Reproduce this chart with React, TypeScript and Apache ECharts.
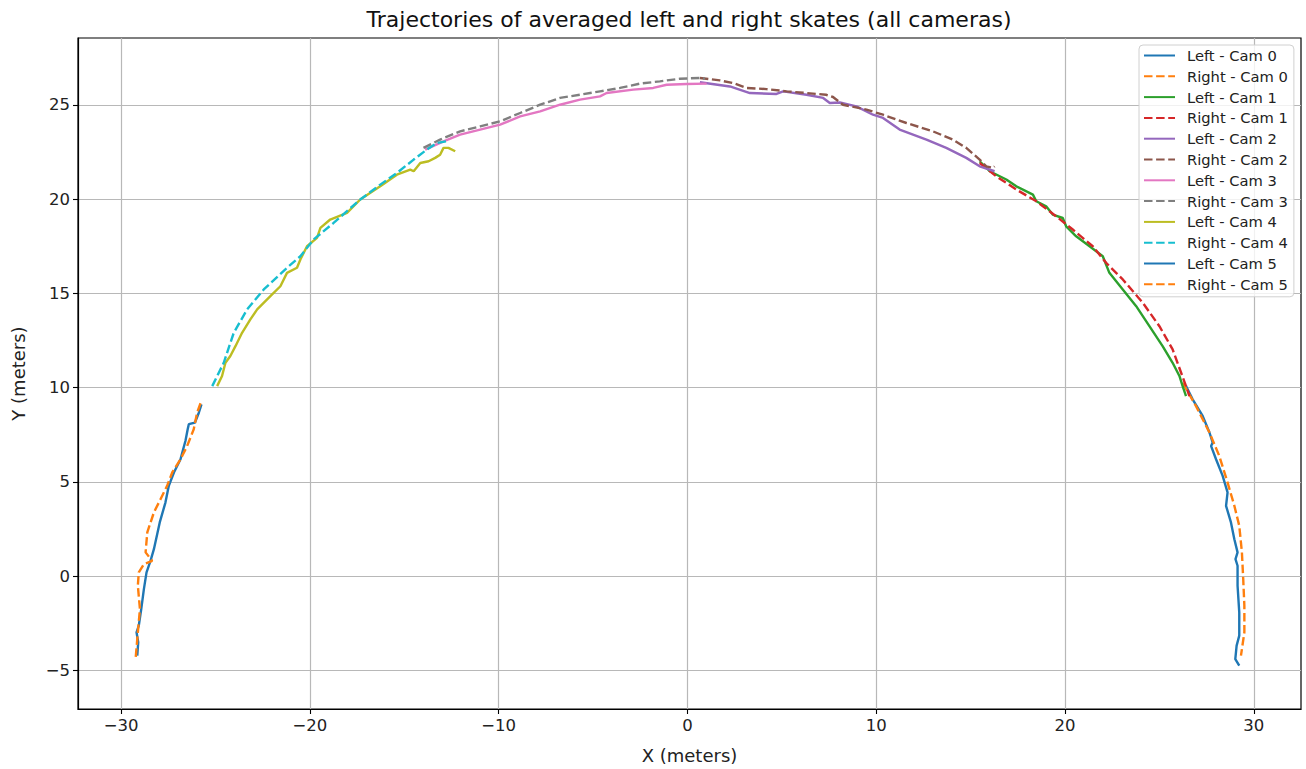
import React, { useEffect, useRef } from "react";
import * as echarts from "echarts";

const FONT = "DejaVu Sans";

const xTicks = [-30, -20, -10, 0, 10, 20, 30];
const yTicks = [-5, 0, 5, 10, 15, 20, 25];

// Cam 0 (right end of the arc)
const leftCam0: number[][] = [
  [26.41, 10.08], [26.76, 9.38], [27.29, 8.5], [27.65, 7.62], [27.82, 7.09], [27.74, 6.9],
  [28.0, 6.2], [28.35, 5.32], [28.61, 4.44], [28.53, 3.73], [28.79, 2.85], [28.97, 1.96],
  [29.14, 1.26], [29.03, 0.9], [29.14, 0.55], [29.14, -0.51], [29.23, -1.92], [29.23, -3.16],
  [29.09, -3.69], [29.02, -4.4], [29.23, -4.75],
];
const rightCam0: number[][] = [
  [26.23, 10.26], [26.94, 9.02], [27.65, 7.62], [28.17, 6.38], [28.61, 4.97], [28.97, 3.73],
  [29.23, 2.67], [29.37, 1.26], [29.44, -0.16], [29.5, -1.57], [29.5, -2.98], [29.32, -4.22],
];
// Cam 1
const leftCam1: number[][] = [
  [15.48, 22.01], [16.01, 21.48], [16.89, 21.04], [17.42, 20.68], [18.3, 20.24], [18.48, 19.89],
  [19.0, 19.62], [19.35, 19.18], [19.88, 19.0], [20.06, 18.56], [20.59, 18.03], [21.3, 17.5],
  [22.0, 16.97], [22.35, 16.09], [23.06, 15.21], [23.77, 14.32], [24.47, 13.26], [25.17, 12.2],
  [25.7, 11.32], [26.06, 10.62], [26.23, 10.08], [26.41, 9.55],
];
const rightCam1: number[][] = [
  [15.48, 21.92], [16.36, 21.21], [17.42, 20.51], [18.48, 19.89], [19.53, 19.09], [20.41, 18.39],
  [21.47, 17.5], [22.18, 16.62], [23.06, 15.74], [24.12, 14.5], [25.0, 13.26], [25.7, 12.03],
  [26.15, 10.79], [26.41, 10.08], [26.59, 9.55],
];
// Cam 2
const leftCam2: number[][] = [
  [0.66, 26.2], [2.25, 25.98], [3.31, 25.63], [4.72, 25.58], [5.07, 25.72], [6.31, 25.54],
  [7.19, 25.37], [7.54, 25.1], [8.07, 25.13], [8.95, 24.92], [9.83, 24.48], [10.36, 24.31],
  [11.24, 23.69], [12.66, 23.16], [13.71, 22.72], [14.77, 22.19], [15.48, 21.74], [16.27, 21.48],
];
const rightCam2: number[][] = [
  [0.66, 26.43], [1.72, 26.3], [2.42, 26.16], [3.13, 25.9], [4.19, 25.84], [5.25, 25.72],
  [6.31, 25.63], [7.34, 25.54], [7.71, 25.42], [8.24, 25.01], [9.48, 24.75], [10.36, 24.48],
  [11.6, 24.04], [13.0, 23.6], [14.06, 23.16], [14.77, 22.72], [15.48, 22.1], [15.83, 21.74],
  [16.18, 21.66], [16.27, 21.74],
];
// Cam 3
const leftCam3: number[][] = [
  [-13.89, 22.63], [-12.92, 23.07], [-12.04, 23.42], [-10.98, 23.69], [-9.92, 23.95],
  [-8.86, 24.39], [-7.8, 24.66], [-6.75, 25.01], [-5.69, 25.28], [-4.63, 25.45], [-4.28, 25.63],
  [-2.87, 25.81], [-1.81, 25.9], [-1.1, 26.07], [-0.04, 26.11], [1.02, 26.13],
];
const rightCam3: number[][] = [
  [-13.98, 22.72], [-13.1, 23.16], [-12.04, 23.6], [-10.98, 23.86], [-9.92, 24.13],
  [-8.86, 24.57], [-7.8, 25.01], [-6.75, 25.37], [-5.69, 25.54], [-4.63, 25.72], [-3.57, 25.9],
  [-2.51, 26.13], [-1.46, 26.25], [-0.4, 26.39], [0.66, 26.43], [0.93, 26.39],
];
// Cam 4
const leftCam4: number[][] = [
  [-24.91, 10.08], [-24.65, 10.62], [-24.47, 11.32], [-24.21, 11.68], [-23.94, 12.2],
  [-23.59, 12.91], [-23.15, 13.62], [-22.79, 14.15], [-22.09, 14.85], [-21.56, 15.38],
  [-21.21, 16.09], [-20.68, 16.36], [-20.5, 16.8], [-20.15, 17.5], [-19.62, 17.95],
  [-19.44, 18.48], [-18.92, 18.92], [-18.03, 19.27], [-17.33, 19.98], [-16.27, 20.68],
  [-15.39, 21.3], [-14.68, 21.57], [-14.5, 21.48], [-14.15, 21.92], [-13.71, 22.01],
  [-13.36, 22.19], [-13.1, 22.36], [-12.92, 22.72], [-12.66, 22.72], [-12.3, 22.54],
];
const rightCam4: number[][] = [
  [-25.17, 10.08], [-24.56, 11.32], [-24.03, 12.91], [-23.32, 14.15], [-22.44, 15.21],
  [-21.21, 16.36], [-20.5, 16.97], [-19.8, 17.86], [-18.74, 18.74], [-17.33, 19.98],
  [-16.27, 20.77], [-15.39, 21.39], [-14.5, 22.1], [-13.8, 22.63], [-13.27, 22.98], [-12.74, 23.07],
];
// Cam 5 (left end of the arc)
const leftCam5: number[][] = [
  [-25.74, 9.11], [-25.88, 8.67], [-26.09, 8.14], [-26.41, 8.06], [-26.47, 7.79], [-26.59, 7.17],
  [-26.71, 6.73], [-26.85, 6.2], [-27.2, 5.5], [-27.47, 4.79], [-27.65, 3.9], [-27.95, 2.85],
  [-28.26, 1.43], [-28.44, 0.81], [-28.65, 0.2], [-28.79, -0.69], [-28.93, -1.75],
  [-29.06, -2.63], [-29.18, -2.98], [-29.09, -3.51], [-29.14, -4.22],
];
const rightCam5: number[][] = [
  [-25.79, 9.17], [-25.97, 8.67], [-26.15, 7.79], [-26.5, 6.9], [-26.85, 6.2], [-27.29, 5.5],
  [-27.56, 4.79], [-27.91, 4.08], [-28.26, 3.38], [-28.61, 2.32], [-28.7, 1.26], [-28.35, 0.81],
  [-28.79, 0.64], [-29.06, 0.2], [-29.11, -0.51], [-29.0, -1.75], [-29.11, -2.98], [-29.23, -4.4],
];

const seriesNames = [
  "Left - Cam 0", "Right - Cam 0", "Left - Cam 1", "Right - Cam 1",
  "Left - Cam 2", "Right - Cam 2", "Left - Cam 3", "Right - Cam 3",
  "Left - Cam 4", "Right - Cam 4", "Left - Cam 5", "Right - Cam 5",
];
const seriesData = [
  leftCam0, rightCam0, leftCam1, rightCam1, leftCam2, rightCam2,
  leftCam3, rightCam3, leftCam4, rightCam4, leftCam5, rightCam5,
];
const colors = [
  "#1f77b4", "#ff7f0e", "#2ca02c", "#d62728", "#9467bd", "#8c564b",
  "#e377c2", "#7f7f7f", "#bcbd22", "#17becf", "#1f77b4", "#ff7f0e",
];

const minusFmt = (v: number) => (v < 0 ? "\u2212" + Math.abs(v) : String(v));

export default function App() {
  const ref = useRef<HTMLDivElement>(null);
  useEffect(() => {
    if (!ref.current) return;
    const chart = echarts.init(ref.current, null, { renderer: "svg" });
    const series = seriesNames.map((name, i) => ({
      name,
      type: "line",
      data: seriesData[i],
      symbol: "none",
      showSymbol: false,
      smooth: false,
      color: colors[i],
      lineStyle: {
        color: colors[i],
        width: 2.4,
        type: i % 2 === 1 ? [8.5, 3.6] : "solid",
      },
      emphasis: { disabled: true },
      z: 2,
    }));
    chart.setOption({
      animation: false,
      backgroundColor: "#ffffff",
      textStyle: { fontFamily: FONT },
      grid: {
        left: 78,
        right: 5,
        top: 38,
        bottom: 59,
        show: true,
        borderColor: "#000",
        borderWidth: 1.2,
        containLabel: false,
      },
      graphic: [
        {
          type: "text",
          x: 689,
          y: 19,
          style: {
            text: "Trajectories of averaged left and right skates (all cameras)",
            font: `22px '${FONT}'`,
            fill: "#111",
            textAlign: "center",
            textVerticalAlign: "middle",
          },
        },
      ],
      legend: {
        orient: "vertical",
        left: 1139,
        top: 45,
        itemWidth: 31,
        itemHeight: 14,
        itemGap: 5.8,
        padding: [3, 6, 5, 4],
        borderColor: "#d0d0d0",
        borderWidth: 1,
        borderRadius: 4,
        backgroundColor: "rgba(255,255,255,0.8)",
        itemStyle: { opacity: 0 },
        textStyle: {
          fontFamily: FONT,
          fontSize: 14.7,
          color: "#222",
          padding: [0, 0, 0, 7],
        },
        data: seriesNames.map((n) => ({ name: n })),
      },
      xAxis: {
        type: "value",
        min: -32.28,
        max: 32.5,
        name: "X (meters)",
        nameLocation: "middle",
        nameGap: 37,
        nameTextStyle: { fontFamily: FONT, fontSize: 18, color: "#222" },
        axisLine: { show: true, onZero: false, lineStyle: { color: "#000", width: 1.2 } },
        axisTick: { show: true, length: 5, inside: false, customValues: xTicks, lineStyle: { color: "#000", width: 1.1 } },
        axisLabel: {
          customValues: xTicks,
          margin: 8,
          fontFamily: FONT,
          fontSize: 16.5,
          color: "#222",
          formatter: minusFmt,
        },
        splitLine: { show: true, lineStyle: { color: "#b8b8b8", width: 1.2 } },
      },
      yAxis: {
        type: "value",
        min: -7.05,
        max: 28.55,
        name: "Y (meters)",
        nameLocation: "middle",
        nameGap: 51,
        nameRotate: 90,
        nameTextStyle: { fontFamily: FONT, fontSize: 18, color: "#222" },
        axisLine: { show: true, onZero: false, lineStyle: { color: "#000", width: 1.2 } },
        axisTick: { show: true, length: 5, inside: false, customValues: yTicks, lineStyle: { color: "#000", width: 1.1 } },
        axisLabel: {
          customValues: yTicks,
          margin: 8,
          fontFamily: FONT,
          fontSize: 16.5,
          color: "#222",
          formatter: minusFmt,
        },
        splitLine: { show: true, lineStyle: { color: "#b8b8b8", width: 1.2 } },
      },
      series,
    });
    return () => chart.dispose();
  }, []);
  return (
    <div
      ref={ref}
      style={{ position: "fixed", left: 0, top: 0, width: 1306, height: 769, background: "#fff" }}
    />
  );
}
